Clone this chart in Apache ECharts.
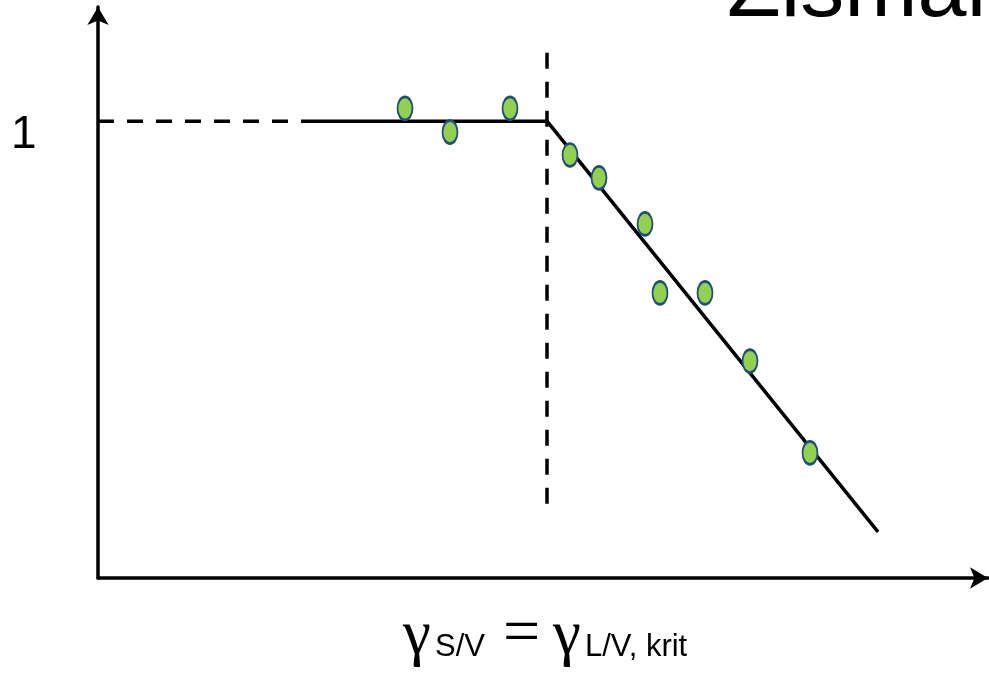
<!DOCTYPE html>
<html>
<head>
<meta charset="utf-8">
<script src="https://cdn.jsdelivr.net/npm/echarts@6/dist/echarts.min.js"></script>
<style>
html,body{margin:0;padding:0;background:#fff;}
#chart{width:989px;height:674px;}
</style>
</head>
<body>
<div id="chart"></div>
<script>
// Measured points (x in arbitrary units, y relative: 1 = plateau)
const pointsX = [3.07, 3.52, 4.12, 4.72, 5.01, 5.47, 5.62, 6.07, 6.52, 7.12];
const pointsY = [1.028, 0.976, 1.028, 0.926, 0.876, 0.775, 0.624, 0.624, 0.475, 0.274];
// Fitted piecewise line
const fitX = [2.07, 4.49, 7.80];
const fitY = [1.0, 1.0, 0.101];
// Guide lines
const hGuideX = [0, 2.07];
const hGuideY = [1, 1];
const vGuideX = [4.49, 4.49];
const vGuideY = [1.15, 0.157];
const yTickLabels = ['1'];
const titleText = 'Zisman';
const xLabelParts = ['γ', 'S/V', '=', 'γ', 'L/V, krit'];

const chart = echarts.init(document.getElementById('chart'));
const zip = (a, b) => a.map((v, i) => [v, b[i]]);
const SANS = 'Liberation Sans';
const SERIF = 'Liberation Serif';

function txt(text, x, y, family, size) {
  return { type: 'text', x: x, y: y, silent: true,
    style: { text: text, fontFamily: family, fontSize: size, fill: '#000', verticalAlign: 'top', align: 'left' } };
}

chart.setOption({
  animation: false,
  backgroundColor: '#ffffff',
  grid: { left: 98, right: 1, top: 7, bottom: 96, containLabel: false },
  xAxis: {
    type: 'value', min: 0, max: 8.9,
    axisLine: { show: true, symbol: ['none', 'arrow'], symbolSize: [16, 18],
      lineStyle: { color: '#000', width: 3.5 } },
    axisTick: { show: false }, axisLabel: { show: false }, splitLine: { show: false }
  },
  yAxis: {
    type: 'value', min: 0, max: 1.25,
    axisLine: { show: true, symbol: ['none', 'arrow'], symbolSize: [16, 18],
      lineStyle: { color: '#000', width: 3.5 } },
    axisTick: { show: false }, axisLabel: { show: false }, splitLine: { show: false }
  },
  graphic: [
    txt(yTickLabels[0], 11, 112, SANS, 46),
    txt(titleText, 727, -52, SANS, 88),
    txt(xLabelParts[0], 403, 605, SERIF, 63),
    txt(xLabelParts[1], 435, 632, SANS, 31),
    txt(xLabelParts[2], 503, 603, SERIF, 66),
    txt(xLabelParts[3], 553, 605, SERIF, 63),
    txt(xLabelParts[4], 585, 632, SANS, 31)
  ],
  series: [
    { type: 'line', data: zip(hGuideX, hGuideY), symbol: 'none',
      lineStyle: { color: '#000', width: 3.5, type: [16, 13] } },
    { type: 'line', data: zip(vGuideX, vGuideY), symbol: 'none',
      lineStyle: { color: '#000', width: 3.5, type: [16, 13] } },
    { type: 'line', data: zip(fitX, fitY), symbol: 'none',
      lineStyle: { color: '#000', width: 3.5 } },
    { type: 'scatter', data: zip(pointsX, pointsY), symbol: 'circle', symbolSize: [15, 23],
      itemStyle: { color: '#92D050', borderColor: '#1F4E79', borderWidth: 2.2, opacity: 1 }, z: 5 }
  ]
});
</script>
</body>
</html>
